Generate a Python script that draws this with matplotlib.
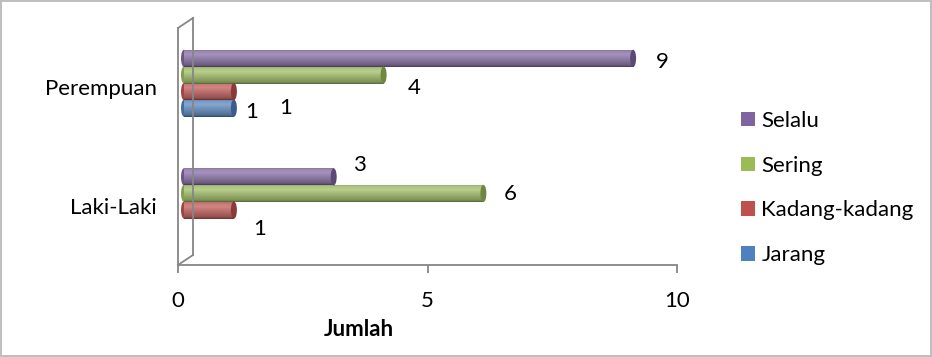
import numpy as np
import matplotlib.pyplot as plt
from matplotlib import transforms
from matplotlib.patches import Ellipse, Patch
from matplotlib.lines import Line2D
from matplotlib.colors import to_rgb

plt.rcParams['font.family'] = ['Lato', 'DejaVu Sans']

# data
kategori = ['Laki-Laki', 'Perempuan']
seri = ['Jarang', 'Kadang-kadang', 'Sering', 'Selalu']
jarang = [0, 1]
kadang = [1, 1]
sering = [6, 4]
selalu = [3, 9]
nilai = [jarang, kadang, sering, selalu]
warna = ['#4F81BD', '#C0504D', '#9BBB59', '#8064A2']

# posisi label nilai (geser dalam piksel dari ujung batang)
geser_label = [
    [None, (18, -4)],
    [(26, -19), (52, -16)],
    [(27, -1), (31, -13)],
    [(26, 12), (29, -4)],
]

fs = 16
abu = '#868686'

fig = plt.figure(figsize=(9.32, 3.57), dpi=100)
fig.patch.set_edgecolor('#bfbfbf')
fig.patch.set_linewidth(1.5)
ax = fig.add_axes([178 / 932, 1 - 265 / 357, 499 / 932, 237 / 357])
ax.set_xlim(0, 10)
ax.set_ylim(-0.5, 1.5)

# efek kedalaman 3D: batang digeser ke belakang
trans = ax.transData + transforms.ScaledTranslation(6 / 100, 4 / 100, fig.dpi_scale_trans)

tinggi = 0.145
offset = [-0.21, -0.07, 0.07, 0.21]
y = np.arange(len(kategori))


def gradasi(c):
    r = np.array(to_rgb(c))
    gelap = r * 0.55
    terang = np.clip(r + (1 - r) * 0.3, 0, 1)
    t = np.linspace(0, 1, 64)
    # bawah gelap, atas terang, tepi atas sedikit gelap lagi
    prof = np.interp(t, [0, 0.1, 0.45, 0.7, 0.9, 1], [0.0, 0.4, 0.75, 1.0, 0.85, 0.45])
    img = gelap[None, :] + (terang - gelap)[None, :] * prof[:, None]
    return img[:, None, :]


for i, (nama, val, c) in enumerate(zip(seri, nilai, warna)):
    ypos = y + offset[i]
    bars = ax.barh(ypos, val, height=tinggi, color=c, transform=trans,
                   edgecolor='none', zorder=3)
    r = np.array(to_rgb(c))
    for b, v, yy in zip(bars, val, ypos):
        if v == 0:
            continue
        im = ax.imshow(gradasi(c), extent=(0, v, yy - tinggi / 2, yy + tinggi / 2),
                       origin='lower', aspect='auto', transform=trans, zorder=3,
                       interpolation='bilinear')
        im.set_clip_path(b)
        # tutup silinder
        ax.add_patch(Ellipse((0, yy), 0.12, tinggi, facecolor=r * 0.85,
                             edgecolor='none', transform=trans, zorder=2.9))
        ax.add_patch(Ellipse((v, yy), 0.12, tinggi, facecolor=r * 0.72,
                             edgecolor='none', transform=trans, zorder=4))
    for k, v in enumerate(val):
        g = geser_label[i][k]
        if g is None:
            continue
        ax.annotate(str(v), (v, ypos[k]), xycoords=trans, xytext=g,
                    textcoords='offset pixels', ha='center', va='center',
                    fontsize=fs, color='black', zorder=5)

ax.set_xlim(0, 10)
ax.set_ylim(-0.5, 1.5)

# dinding samping
for s in ax.spines.values():
    s.set_visible(False)
dalam = transforms.ScaledTranslation(15 / 100, 10 / 100, fig.dpi_scale_trans)
ta = ax.transAxes
tb = ax.transAxes + dalam
for (x0, y0, t0), (x1, y1, t1) in [
    ((0, 0, ta), (0, 1, ta)),
    ((0, 0, tb), (0, 1, tb)),
    ((0, 1, ta), (0, 1, tb)),
    ((0, 0, ta), (0, 0, tb)),
]:
    p0 = t0.transform((x0, y0))
    p1 = t1.transform((x1, y1))
    fig.add_artist(Line2D([p0[0], p1[0]], [p0[1], p1[1]], transform=None,
                          color=abu, linewidth=1.3, zorder=1))
ax.add_line(Line2D([0, 1], [0, 0], transform=ax.transAxes, color=abu,
                   linewidth=1.3, clip_on=False))

ax.set_xticks([0, 5, 10])
ax.tick_params(axis='x', length=6, width=1.3, color=abu, pad=13, labelsize=fs)
ax.set_yticks(y, kategori)
ax.tick_params(axis='y', length=0, pad=15, labelsize=fs)

fig.text(359 / 932, 1 - 330 / 357, 'Jumlah', ha='center', va='center',
         fontsize=fs, fontweight='bold')

handles = [Patch(facecolor=c) for c in warna][::-1]
fig.legend(handles, seri[::-1], loc='center left',
           bbox_to_anchor=(732 / 932, 1 - 188 / 357), frameon=False,
           fontsize=fs, handlelength=0.62, handleheight=0.62,
           handletextpad=0.3, labelspacing=1.12, borderaxespad=0)

fig.savefig('out.png', dpi=100)
